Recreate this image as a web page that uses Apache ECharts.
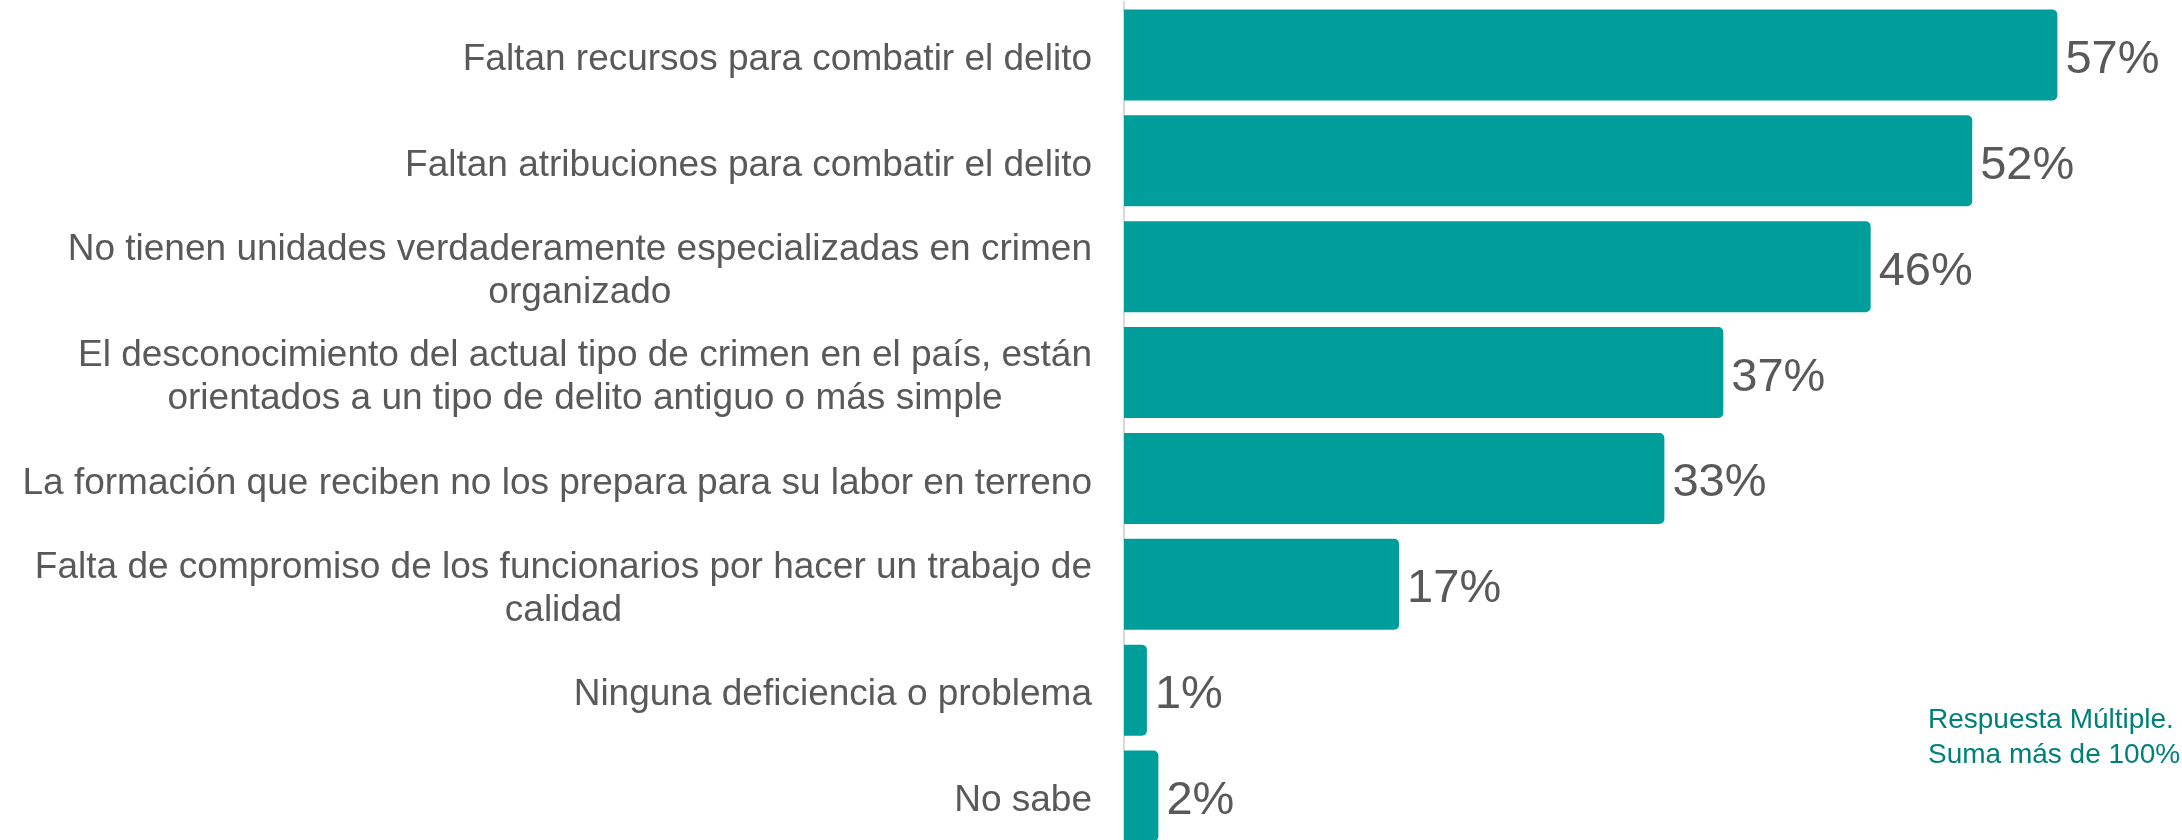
<!DOCTYPE html>
<html>
<head>
<meta charset="utf-8">
<script src="https://cdn.jsdelivr.net/npm/echarts@6/dist/echarts.min.js"></script>
<style>
  html, body { margin: 0; padding: 0; background: #fff; }
  #main { width: 2182px; height: 840px; }
</style>
</head>
<body>
<div id="main"></div>
<script>
// categorias (de arriba hacia abajo)
const categories = [
  'Faltan recursos para combatir el delito',
  'Faltan atribuciones para combatir el delito',
  'No tienen unidades verdaderamente especializadas en crimen\norganizado',
  'El desconocimiento del actual tipo de crimen en el país, están\norientados a un tipo de delito antiguo o más simple',
  'La formación que reciben no los prepara para su labor en terreno',
  'Falta de compromiso de los funcionarios por hacer un trabajo de\ncalidad',
  'Ninguna deficiencia o problema',
  'No sabe'
]
// porcentajes (la etiqueta se redondea)
const values = [57, 51.8, 45.6, 36.6, 33, 16.8, 1.4, 2.1]
const noteLines = ['Respuesta Múltiple.', 'Suma más de 100%']

const font = '"Liberation Sans", Arial, sans-serif'
const grey = '#595959'

var myChart = echarts.init(document.getElementById('main'))

var option = {
  animation: false,
  grid: {
    left: 1124,
    top: 2,
    width: 1048,
    height: 847,
    outerBoundsMode: 'none',
    containLabel: false
  },
  xAxis: {
    type: 'value',
    min: 0,
    max: 64,
    show: false
  },
  yAxis: {
    type: 'category',
    inverse: true,
    data: categories,
    axisLine: { show: true, lineStyle: { color: '#d9d9d9', width: 2 } },
    axisTick: { show: false },
    axisLabel: {
      margin: 32,
      padding: [10, 0, 0, 0],
      fontFamily: font,
      fontSize: 37,
      lineHeight: 43,
      color: grey,
      formatter: function (v) {
        return v.split('\n').map(function (l) { return '{c|' + l + '}' }).join('\n')
      },
      rich: {
        c: { align: 'center', fontFamily: font, fontSize: 37, lineHeight: 43, color: grey }
      }
    }
  },
  series: [{
    type: 'bar',
    data: values,
    barWidth: '86%',
    itemStyle: { color: '#009e9b', borderRadius: [0, 5, 5, 0] },
    label: {
      show: true,
      position: 'right',
      distance: 8,
      offset: [0, 5],
      fontFamily: font,
      fontSize: 47,
      color: grey,
      formatter: function (p) { return Math.round(p.value) + '%' }
    }
  }],
  graphic: [{
    type: 'text',
    left: 1928,
    top: 703,
    style: {
      text: noteLines.join('\n'),
      font: '28px ' + font,
      lineHeight: 35,
      fill: '#00807b'
    }
  }]
}

myChart.setOption(option)
</script>
</body>
</html>
